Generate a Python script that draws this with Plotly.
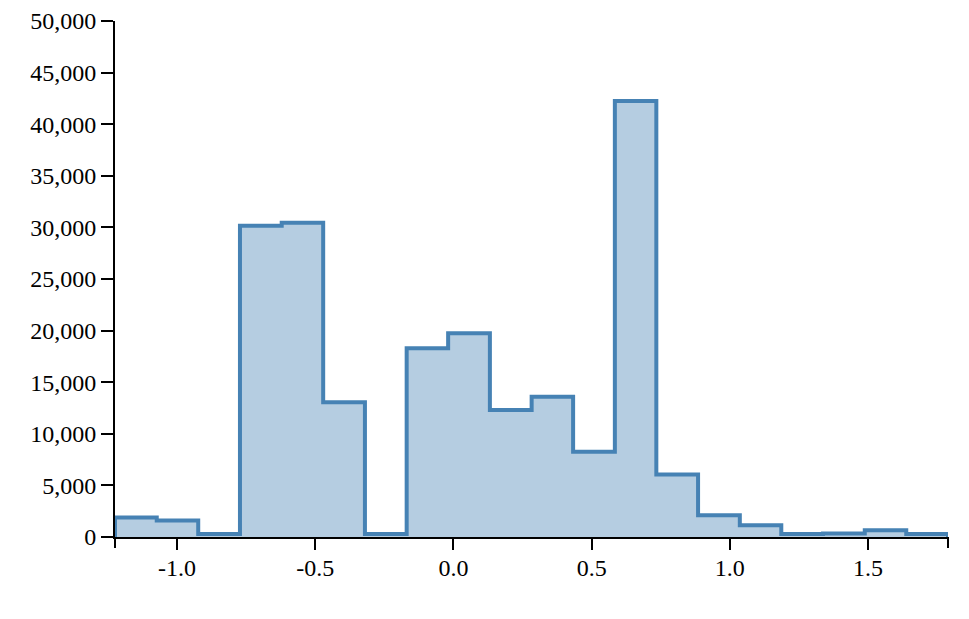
import plotly.graph_objects as go

# Histogram bin edges (21 edges -> 20 bins) and counts
bin_edges = [-1.224, -1.073, -0.923, -0.772, -0.621, -0.471, -0.320, -0.169,
             -0.019, 0.132, 0.283, 0.433, 0.584, 0.734, 0.885, 1.036,
             1.186, 1.337, 1.488, 1.638, 1.789]
counts = [1900, 1600, 300, 30150, 30450, 13050, 300, 18300, 19750, 12300,
          13600, 8250, 42250, 6050, 2100, 1150, 280, 350, 650, 280]

x_tickvals = [-1.0, -0.5, 0.0, 0.5, 1.0, 1.5]
x_ticktext = ["-1.0", "-0.5", "0.0", "0.5", "1.0", "1.5"]
y_tickvals = [0, 5000, 10000, 15000, 20000, 25000, 30000, 35000, 40000, 45000, 50000]

# step outline: start at baseline, each bin's left edge with its count, close at right edge
xs = [bin_edges[0]] + bin_edges[:-1] + [bin_edges[-1], bin_edges[-1]]
ys = [0] + counts + [counts[-1], 0]

fig = go.Figure()
fig.add_trace(go.Scatter(
    x=xs, y=ys, mode="lines", line=dict(color="#4682b4", width=4, shape="hv"),
    fill="tozeroy", fillcolor="rgba(70,130,180,0.4)", hoverinfo="skip",
    showlegend=False,
))

font = dict(family="Liberation Serif, Times New Roman, serif", size=24, color="black")

fig.update_layout(
    width=969, height=619,
    margin=dict(l=115, r=21, t=21, b=82, autoexpand=False),
    plot_bgcolor="white", paper_bgcolor="white",
    font=font,
    xaxis=dict(
        range=[bin_edges[0], bin_edges[-1]], tickvals=x_tickvals, ticktext=x_ticktext,
        showgrid=False, zeroline=False, showline=True, linecolor="black", linewidth=2,
        ticks="outside", ticklen=11, tickwidth=2, tickcolor="black", ticklabelstandoff=-3,
        automargin=False,
    ),
    yaxis=dict(
        range=[0, 50000], tickvals=y_tickvals, tickformat=",d",
        showgrid=False, zeroline=False, showline=True, linecolor="black", linewidth=2,
        ticks="outside", ticklen=12, tickwidth=2, tickcolor="black", ticklabelstandoff=0,
        automargin=False,
    ),
)

# outer end ticks of the x-axis domain
for px in (0, 1):
    fig.add_shape(type="line", xref="paper", yref="paper", x0=px, x1=px,
                  ysizemode="pixel", yanchor=0, y0=0, y1=-11,
                  line=dict(color="black", width=2))

fig.write_html("out.html")
